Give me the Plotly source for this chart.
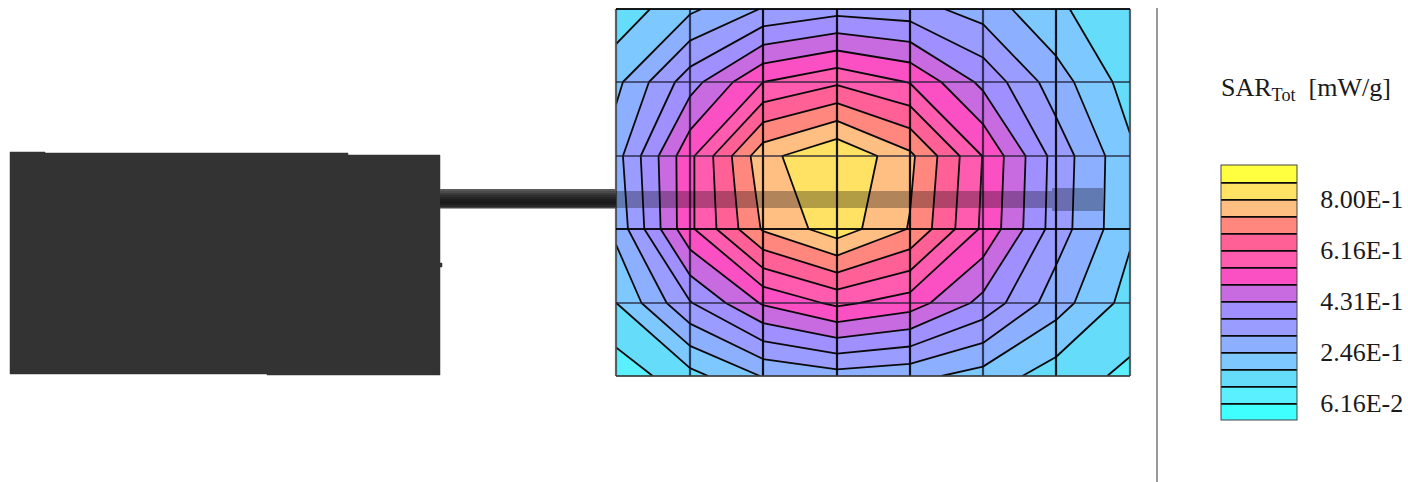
import plotly.graph_objects as go

# SAR field
mesh_x = [616, 690, 763, 837, 910, 983, 1056, 1130]
mesh_y = [9, 82, 156, 229, 303, 376]
sar = [
    [.143, .234, .312, .345, .333, .280, .195, .140],
    [.230, .405, .554, .605, .551, .415, .275, .157],
    [.284, .540, .780, .860, .753, .552, .345, .197],
    [.263, .542, .746, .835, .735, .543, .340, .195],
    [.184, .365, .500, .568, .524, .412, .275, .160],
    [.084, .163, .250, .282, .265, .222, .153, .110],
]
level_start = 0.0616
level_step = 0.0616
level_end = 0.8624
band_colors = ["#40ffff", "#5af0ff", "#64dcfa", "#7dc8ff", "#8cb0ff", "#9a9cff", "#9f8fff",
               "#c86ae0", "#fa50c3", "#ff5cb0", "#ff6096", "#ff877d", "#ffbe82", "#ffe164", "#ffff40"]
tick_values = [0.0616, 0.2464, 0.4312, 0.616, 0.8008]
tick_labels = ["6.16E-2", "2.46E-1", "4.31E-1", "6.16E-1", "8.00E-1"]

# Hardware silhouette
body_x = [10, 10, 45, 45, 348, 348, 440, 440, 442, 442, 440, 440, 267, 267, 10]
body_y = [374, 152, 152, 153, 153, 155, 155, 263, 263, 267, 267, 375, 375, 374, 374]
rod_x = [440, 616]
rod_rows = [189, 191, 193, 195, 197, 199, 201, 203, 205, 207, 208.5]
rod_grays = ["#5a5a5a", "#4a4a4a", "#3a3a3a", "#2e2e2e", "#262626", "#1e1e1e", "#1a1a1a", "#1c1c1c", "#282828", "#444444"]
overlay_x = [616, 1052, 1052, 1103, 1103, 1052, 1052, 616]
overlay_y = [191, 191, 188, 188, 211, 211, 208, 208]
divider_x = [1157, 1157]
divider_y = [8, 482]

fig = go.Figure()
fig.add_trace(go.Scatter(x=body_x, y=body_y, mode="lines", fill="toself", fillcolor="#333333",
                         line=dict(width=0.5, color="#333333"), hoverinfo="skip"))
n = len(band_colors)
fig.add_trace(go.Contour(
    x=mesh_x, y=mesh_y, z=sar, autocontour=False, zmin=0, zmax=0.924,
    contours=dict(start=level_start, end=level_end, size=level_step, coloring="fill"),
    colorscale=[[i / (n - 1), c] for i, c in enumerate(band_colors)],
    line=dict(color="#0a0a0a", width=1.8, smoothing=0),
    colorbar=dict(
        thickness=76, thicknessmode="pixels", len=255, lenmode="pixels",
        x=1221 / 1408, xanchor="left", xpad=0,
        y=(482 - 419.5) / 482, yanchor="bottom", ypad=0,
        outlinecolor="#444444", outlinewidth=1, bordercolor="rgba(0,0,0,0)", borderwidth=0,
        tickmode="array", tickvals=tick_values, ticktext=tick_labels,
        ticks="outside", ticklen=18, tickcolor="rgba(0,0,0,0)", tickwidth=0,
        tickfont=dict(family="Liberation Serif", size=26, color="#1a1a1a"),
    ),
))
# mesh lines
for i, xv in enumerate(mesh_x):
    col = "rgba(10,10,30,0.72)" if i in (1, 5) else "rgba(0,0,0,0.9)"
    if i in (0, 7):
        col = "rgba(70,70,70,0.85)"
    fig.add_trace(go.Scatter(x=[xv, xv], y=[mesh_y[0], mesh_y[-1]], mode="lines",
                             line=dict(color=col, width=2.2), hoverinfo="skip"))
for j, yv in enumerate(mesh_y):
    col = "rgba(30,30,50,0.65)" if j in (1, 2, 4) else "rgba(0,0,0,0.9)"
    if j == 5:
        col = "rgba(60,60,60,0.85)"
    fig.add_trace(go.Scatter(x=[mesh_x[0], mesh_x[-1]], y=[yv, yv], mode="lines",
                             line=dict(color=col, width=2.2), hoverinfo="skip"))
# rod
for k, g in enumerate(rod_grays):
    y0, y1 = rod_rows[k], rod_rows[k + 1]
    fig.add_trace(go.Scatter(x=[rod_x[0], rod_x[1], rod_x[1], rod_x[0]], y=[y0, y0, y1, y1],
                             mode="lines", fill="toself", fillcolor=g, line=dict(width=0), hoverinfo="skip"))
fig.add_trace(go.Scatter(x=overlay_x, y=overlay_y, mode="lines", fill="toself",
                         fillcolor="rgba(0,0,0,0.3)", line=dict(width=0), hoverinfo="skip"))
fig.add_trace(go.Scatter(x=divider_x, y=divider_y, mode="lines",
                         line=dict(color="#999999", width=2), hoverinfo="skip"))

fig.add_annotation(x=1219, y=89, xref="x", yref="y", xanchor="left", yanchor="middle", showarrow=False,
                   text="SAR<sub>Tot</sub>\u00a0\u00a0[mW/g]",
                   font=dict(family="Liberation Serif", size=26, color="#1a1a1a"))

fig.update_layout(
    width=1408, height=482, margin=dict(l=0, r=0, t=0, b=0),
    paper_bgcolor="white", plot_bgcolor="white", showlegend=False,
    xaxis=dict(range=[0, 1408], visible=False, fixedrange=True),
    yaxis=dict(range=[482, 0], visible=False, fixedrange=True),
)
fig.write_html("out.html", config={"displayModeBar": False}, default_width="1408px", default_height="482px",
               full_html=True, post_script="document.body.style.margin='0';document.documentElement.style.overflow='hidden';")
